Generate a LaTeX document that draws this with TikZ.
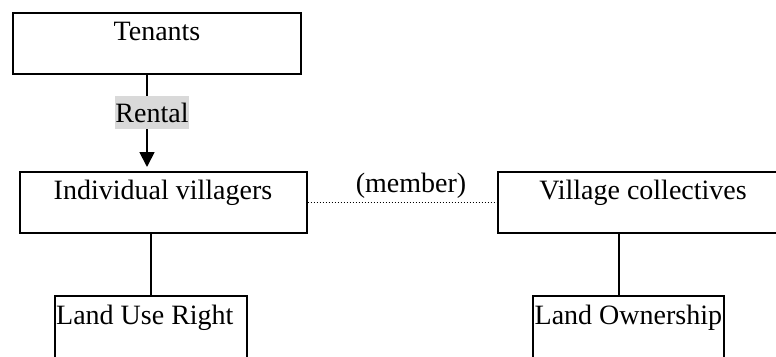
\documentclass[tikz,border=0pt]{standalone}
\usepackage{fontspec}
\setmainfont{Liberation Serif}
\usetikzlibrary{arrows.meta}
\begin{document}
\begin{tikzpicture}[x=1pt,y=-1pt,
  box/.style={draw,line width=2pt,rectangle,inner sep=0pt,minimum width=#1},
  lbl/.style={inner sep=0pt,font=\fontsize{28}{30}\selectfont},
  conn/.style={line width=1.8pt}]
\useasboundingbox (0,0) rectangle (776,356);
\clip (0,0) rectangle (776,356);
% boxes
\node[box=288pt,minimum height=61pt] (Tenants) at (156.5,43) {};
\node[box=287pt,minimum height=61pt] (Indiv) at (163,202.5) {};
\node[box=292pt,minimum height=61pt] (Village) at (644,202.5) {};
\node[box=192pt,minimum height=72pt] (LandUse) at (151,332) {};
\node[box=191pt,minimum height=72pt] (LandOwn) at (628.5,332) {};
% texts
\node[lbl,anchor=base] (tTen) at (157,40) {Tenants};
\node[lbl,anchor=base] (tInd) at (163,199) {Individual villagers};
\node[lbl,anchor=base] (tVil) at (643,199) {Village collectives};
\node[lbl,anchor=base] (tMem) at (411,192) {(member)};
\node[lbl,anchor=base west] (tUse) at (56,324) {Land Use Right};
\node[lbl,anchor=base west] (tOwn) at (534.5,324) {Land Ownership};
% connectors
\coordinate (ax) at (147,0);
\coordinate (ox) at ([xshift=-9.5pt]LandOwn.north);
\draw[conn,-{Triangle[width=15pt,length=15pt]},shorten >=4pt]
  (Tenants.south -| ax) -- (Indiv.north -| ax);
\node[lbl,fill={rgb,255:red,217;green,217;blue,217},inner xsep=0.3pt,minimum height=33pt] (Rental) at (152,112.5) {Rental};
\draw[conn] (Indiv.south -| LandUse.north) -- (LandUse.north);
\draw[conn] (ox) -- (Village.south -| ox);
\draw[line width=1.6pt,dash pattern=on 1.4pt off 1.6pt] (Indiv.east) -- (Village.west);
\end{tikzpicture}
\end{document}
